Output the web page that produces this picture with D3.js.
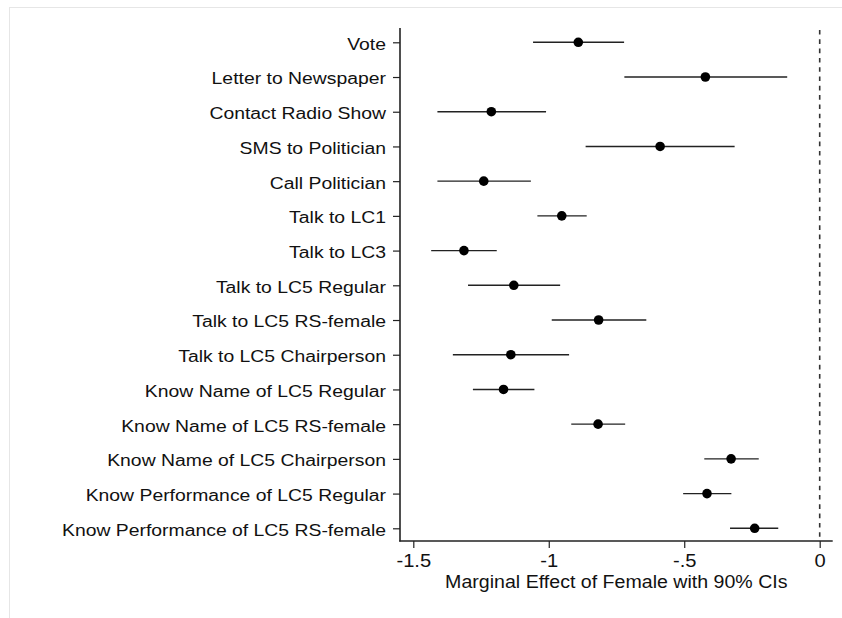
<!DOCTYPE html>
<html><head><meta charset="utf-8">
<script src="https://cdn.jsdelivr.net/npm/d3@7"></script>
<style>
html,body{margin:0;padding:0;background:#fff;}
text{font-family:"Liberation Sans",Arial,sans-serif;fill:#111;}
</style></head>
<body>
<svg id="chart" width="842" height="618"></svg>
<script>
const outcomes = ["Vote","Letter to Newspaper","Contact Radio Show","SMS to Politician","Call Politician","Talk to LC1","Talk to LC3","Talk to LC5 Regular","Talk to LC5 RS-female","Talk to LC5 Chairperson","Know Name of LC5 Regular","Know Name of LC5 RS-female","Know Name of LC5 Chairperson","Know Performance of LC5 Regular","Know Performance of LC5 RS-female"];
const estimates = [-0.891,-0.422,-1.212,-0.589,-1.240,-0.952,-1.313,-1.129,-0.816,-1.140,-1.167,-0.818,-0.327,-0.416,-0.240];
const ciLower = [-1.058,-0.721,-1.411,-0.864,-1.411,-1.042,-1.434,-1.298,-0.989,-1.354,-1.280,-0.917,-0.426,-0.504,-0.331];
const ciUpper = [-0.722,-0.120,-1.010,-0.314,-1.066,-0.860,-1.192,-0.958,-0.640,-0.925,-1.053,-0.718,-0.225,-0.326,-0.153];
const xTicks = [-1.5,-1,-0.5,0];
const xTickLabels = ["-1.5","-1","-.5","0"];
const xTitle = "Marginal Effect of Female with 90% CIs";

const svg = d3.select("#chart");
const SX = 1.12;
svg.append("rect").attr("x",9.5).attr("y",7.5).attr("width",840).attr("height",620)
  .attr("fill","none").attr("stroke","#e6e6e6").attr("stroke-width",1);

const x = d3.scaleLinear().domain([-1.5,0]).range([413.3,819.7]);
const y = d3.scalePoint().domain(outcomes).range([42.3,528.3]);
const plotL = 400, plotR = 832.7, plotT = 28, plotB = 541;

const data = outcomes.map((o,i)=>({o,est:estimates[i],lo:ciLower[i],hi:ciUpper[i]}));

svg.append("line").attr("x1",x(0)).attr("x2",x(0)).attr("y1",plotT+2).attr("y2",plotB)
  .attr("stroke","#333").attr("stroke-width",1.6).attr("stroke-dasharray","4.6,4.7");

svg.selectAll("line.ci").data(data).enter().append("line").attr("class","ci")
  .attr("x1",d=>x(d.lo)).attr("x2",d=>x(d.hi)).attr("y1",d=>y(d.o)).attr("y2",d=>y(d.o))
  .attr("stroke","#222").attr("stroke-width",1.4);
svg.selectAll("circle.pt").data(data).enter().append("circle").attr("class","pt")
  .attr("cx",d=>x(d.est)).attr("cy",d=>y(d.o)).attr("r",4.8).attr("fill","#000");

const yAx = svg.append("g").attr("transform",`translate(${plotL},0)`)
  .call(d3.axisLeft(y).tickSize(7).tickPadding(7).tickSizeOuter(0));
yAx.select(".domain").remove();
yAx.selectAll(".tick line").attr("stroke","#222").attr("stroke-width",1.2);
yAx.selectAll(".tick text").attr("font-size","17.3px").attr("fill","#111")
  .attr("dy","0.4em")
  .each(function(){
    const t=d3.select(this); const xx=+t.attr("x");
    t.attr("transform",`translate(${xx},0) scale(${SX},1) translate(${-xx},0)`);
  });
svg.append("line").attr("x1",plotL).attr("x2",plotL).attr("y1",plotT).attr("y2",plotB+0.5)
  .attr("stroke","#222").attr("stroke-width",1.6);

const xAx = svg.append("g").attr("transform",`translate(0,${plotB})`)
  .call(d3.axisBottom(x).tickValues(xTicks).tickFormat((d,i)=>xTickLabels[i]).tickSize(7).tickPadding(6).tickSizeOuter(0));
xAx.select(".domain").remove();
xAx.selectAll(".tick line").attr("stroke","#222").attr("stroke-width",1.2);
xAx.selectAll(".tick text").attr("font-size","18px").attr("fill","#111")
  .attr("transform",`scale(${SX},1)`).attr("x",0);
svg.append("line").attr("x1",plotL-0.8).attr("x2",plotR).attr("y1",plotB).attr("y2",plotB)
  .attr("stroke","#222").attr("stroke-width",1.6);

const cx = (plotL+plotR)/2;
svg.append("text").attr("x",0).attr("y",0)
  .attr("transform",`translate(${cx},588) scale(${SX},1)`)
  .attr("text-anchor","middle").attr("font-size","17.5px").text(xTitle);
</script>
</body></html>
